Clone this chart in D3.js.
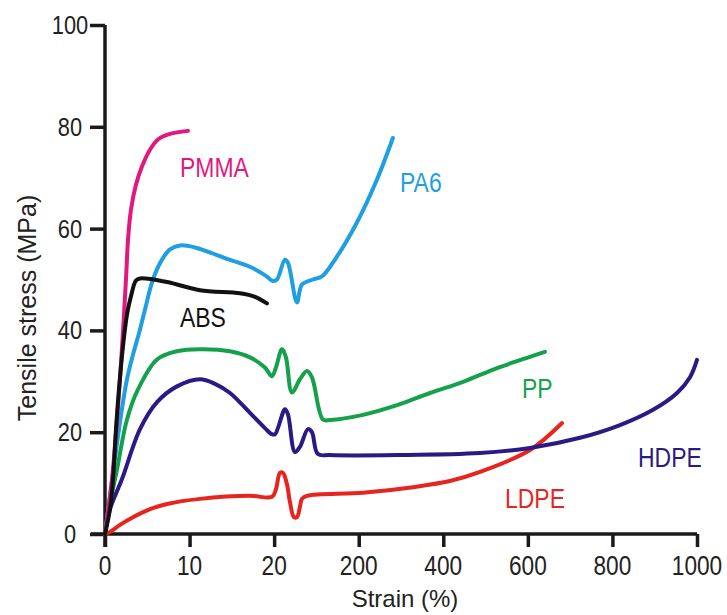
<!DOCTYPE html>
<html><head><meta charset="utf-8">
<script src="https://cdn.jsdelivr.net/npm/d3@7"></script>
<style>body{margin:0;background:#fff}svg{display:block}text{font-family:"Liberation Sans",Arial,sans-serif}</style>
</head><body><svg id="c" width="727" height="615"></svg>
<script>
// ---- data (strain %, tensile stress MPa) ----
const xTicks = [0, 10, 20, 200, 400, 600, 800, 1000];
const yTicks = [0, 20, 40, 60, 80, 100];
const seriesNames = ["PMMA", "PA6", "ABS", "PP", "HDPE", "LDPE"];
const seriesColors = ["#e2187f", "#1d9fe1", "#111111", "#15a04c", "#2b1a86", "#e6251f"];
const pmma = [[0,0],[0.83,10.8],[1.77,30.4],[2.48,50],[2.72,57.8],[3.07,63.7],[3.66,68.6],[4.37,72.2],[5.32,75.5],[6.26,77.5],[7.68,78.6],[9.81,79.2]];
const pa6 = [[0,0],[0.59,7.5],[2.6,30.4],[4.14,40.2],[4.73,44.1],[5.67,50],[6.74,53.9],[7.68,55.9],[8.87,56.7],[10.64,56.3],[14.54,54.0],[17.14,52.5],[19.03,50.7],[19.86,49.7],[26,50],[43,53.9],[49.4,53.3],[68.5,45.5],[79.1,49],[102.6,50],[121.7,50.6],[153.6,54.5],[196.2,61.2],[243,69.6],[280.8,77.8]];
const abs = [[0,0],[0.59,4.9],[0.95,10.8],[1.3,20.6],[1.65,28.4],[2.13,36.9],[2.6,43.1],[3.07,46.7],[3.66,49.8],[4.14,50.2],[7.33,49.5],[11.23,47.9],[15.96,47.3],[17.74,46.6],[19.15,45.3]];
const pp = [[0,0],[0.59,5.9],[1.42,12.7],[2.6,22.5],[3.9,28.4],[6.15,34.3],[8.51,35.9],[11.23,36.3],[14.78,35.9],[17.14,34.7],[18.91,32.7],[19.74,31],[23.8,32.7],[36.6,36.3],[45.1,34.7],[57.9,27.8],[74.9,30.4],[89.8,32],[100.4,30.8],[123.8,22.5],[139,22.4],[210.2,23.4],[290.6,25.3],[368.6,27.7],[446.7,29.9],[527.1,32.6],[605.1,34.8],[640.5,35.8]];
const hdpe = [[0,0],[0.59,4.9],[2.01,10.8],[4.14,20.6],[6.15,25.9],[8.51,29],[11.23,30.4],[13.0,29.5],[14.78,27.7],[17.14,23.8],[18.91,20.8],[19.74,19.6],[21.9,19.6],[43,24.5],[49.4,23.5],[64.2,16.1],[74.9,17.1],[91.9,20.6],[100.4,20],[113.1,15.7],[138.7,15.5],[290.3,15.5],[486.9,15.9],[605.1,16.9],[723.4,18.9],[818,21.4],[896,24.4],[952.8,27.7],[983.5,30.8],[1000,34.2]];
const ldpe = [[0,0],[0.59,0.4],[1.77,1.8],[3.31,3.3],[5.32,4.9],[7.33,5.9],[11.23,6.9],[17.14,7.5],[19.74,7.3],[23.8,8.8],[32.3,12],[38.7,12],[47.2,9.8],[53.6,6.3],[62.1,3.3],[68.5,3.3],[74.9,5.3],[79.1,6.9],[89.8,7.5],[210,8.1],[328.1,9.2],[415.6,10.4],[486.9,12.2],[605.1,16.5],[680.8,21.8]];
const seriesValues = [pmma, pa6, abs, pp, hdpe, ldpe];
const labelAt = [[8.87,70.1],[297.7,67.2],[8.87,40.7],[586.2,26.7],[860.5,13.2],[546,5.1]];

// ---- layout ----
const svg = d3.select("#c");
const x0 = 105, step = 84.57;
const x = d3.scaleLinear().domain(xTicks).range(xTicks.map((d,i)=>x0+i*step));
const y = d3.scaleLinear().domain([0,100]).range([534,25]);

// axes
const gx = svg.append("g").attr("transform","translate(0,534)")
  .call(d3.axisBottom(x).tickValues(xTicks).tickSize(13).tickFormat(()=>""));
const gy = svg.append("g").attr("transform","translate(105,0)")
  .call(d3.axisLeft(y).tickValues(yTicks).tickSize(15).tickFormat(()=>""));
[gx,gy].forEach(g=>{
  g.select(".domain").attr("stroke","#1a1a1a").attr("stroke-width",3.5);
  g.selectAll(".tick line").attr("stroke","#1a1a1a").attr("stroke-width",3.5);
});
gx.select(".domain").attr("d","M91,0H697");
gy.select(".domain").attr("d","M0,25V547");

// condensed text helper
function condText(parent, tx, ty, str, size, sx, anchor, color){
  parent.append("g").attr("transform",`translate(${tx},${ty}) scale(${sx},1)`)
    .append("text").attr("text-anchor",anchor).attr("font-size",size).attr("fill",color).text(str);
}
xTicks.forEach(v=>condText(svg, x(v), 575, String(v), 27, 0.84, "middle", "#222"));
yTicks.forEach(v=>condText(svg, 70, y(v)+9, String(v), 26, 0.84, "middle", "#222"));

// axis titles
svg.append("text").attr("x",405).attr("y",607).attr("text-anchor","middle")
  .attr("font-size",24).attr("fill","#222").text("Strain (%)");
svg.append("text").attr("transform","translate(36,308) rotate(-90)").attr("text-anchor","middle")
  .attr("font-size",25).attr("fill","#222").text("Tensile stress (MPa)");

// lines
const line = d3.line().x(d=>x(d[0])).y(d=>y(d[1])).curve(d3.curveCatmullRom.alpha(0.5));
const order = [5,4,3,1,0,2];
order.forEach(i=>{
  svg.append("path").attr("d",line(seriesValues[i])).attr("fill","none")
    .attr("stroke",seriesColors[i]).attr("stroke-width",4).attr("stroke-linejoin","round").attr("stroke-linecap","round");
});

// series labels
seriesNames.forEach((n,i)=>condText(svg, x(labelAt[i][0]), y(labelAt[i][1]), n, 27, 0.85, "start", seriesColors[i]));
</script></body></html>
